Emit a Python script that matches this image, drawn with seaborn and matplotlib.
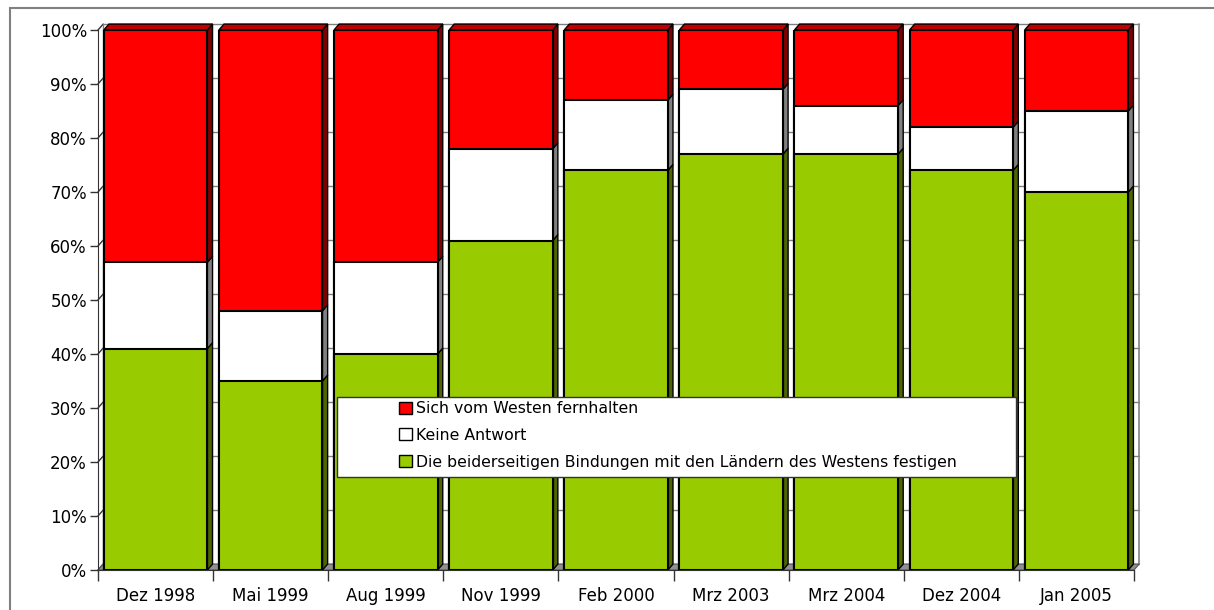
import numpy as np
import pandas as pd
import matplotlib
matplotlib.use("Agg")
import matplotlib.pyplot as plt
from matplotlib.patches import Polygon, Rectangle, Patch
import seaborn as sns

# survey data (percent)
dates = ["Dez 1998", "Mai 1999", "Aug 1999", "Nov 1999", "Feb 2000",
         "Mrz 2003", "Mrz 2004", "Dez 2004", "Jan 2005"]
festigen = [41, 35, 40, 61, 74, 77, 77, 74, 70]
keine = [16, 13, 17, 17, 13, 12, 9, 8, 15]
fernhalten = [43, 52, 43, 22, 13, 11, 14, 18, 15]

labels = ["Sich vom Westen fernhalten", "Keine Antwort",
          "Die beiderseitigen Bindungen mit den Ländern des Westens festigen"]
front = {"red": "#ff0000", "white": "#ffffff", "green": "#99cc00"}
side = {"red": "#800000", "white": "#808080", "green": "#4d6600"}
top_col = "#c00000"

df = pd.DataFrame({"Datum": dates, "festigen": festigen,
                   "keine": keine, "fernhalten": fernhalten})
df["c1"] = df["festigen"]
df["c2"] = df["c1"] + df["keine"]
df["c3"] = df["c2"] + df["fernhalten"]

sns.set_style("white")
plt.rcParams["font.family"] = ["DejaVu Sans"]
plt.rcParams["text.color"] = "black"
plt.rcParams["xtick.labelcolor"] = "black"
plt.rcParams["ytick.labelcolor"] = "black"
fs = 11.3
tfs = 12

fig = plt.figure(figsize=(12.14, 6.10), dpi=100)
ax = fig.add_axes([98 / 1214, 40 / 610, 1036 / 1214, 540 / 610])

W = 0.9
dx, dy = 0.045, 1.1

# back wall grid + floor
for v in range(0, 101, 10):
    ax.plot([-0.5 + dx, 8.5 + dx], [v + dy, v + dy], color="#808080", lw=1, zorder=0.5, clip_on=False)
    ax.plot([-0.5, -0.5 + dx], [v, v + dy], color="#333333", lw=1, zorder=0.5, clip_on=False)
ax.plot([-0.5 + dx, -0.5 + dx], [dy, 100 + dy], color="#808080", lw=1, zorder=0.5, clip_on=False)
ax.plot([8.5 + dx, 8.5 + dx], [dy, 100 + dy], color="#808080", lw=1.2, zorder=0.5, clip_on=False)
ax.add_patch(Polygon([[-0.5, 0], [8.5, 0], [8.5 + dx, dy], [-0.5 + dx, dy]],
                     closed=True, facecolor="#909090", edgecolor="#555555", lw=0.8, zorder=0.6, clip_on=False))

# stacked bars, drawn tallest first
sns.barplot(data=df, x="Datum", y="c3", order=dates, color=front["red"], width=W,
            edgecolor="black", linewidth=1.5, saturation=1, ax=ax, zorder=2)
sns.barplot(data=df, x="Datum", y="c2", order=dates, color=front["white"], width=W,
            edgecolor="black", linewidth=1.5, saturation=1, ax=ax, zorder=2)
sns.barplot(data=df, x="Datum", y="c1", order=dates, color=front["green"], width=W,
            edgecolor="black", linewidth=1.5, saturation=1, ax=ax, zorder=2)

# 3d side and top faces
for i, row in df.iterrows():
    x1 = i + W / 2
    x0 = i - W / 2
    segs = [(0, row["c1"], "green"), (row["c1"], row["c2"], "white"), (row["c2"], row["c3"], "red")]
    for y0, y1, key in segs:
        ax.add_patch(Polygon([[x1, y0], [x1 + dx, y0 + dy], [x1 + dx, y1 + dy], [x1, y1]],
                             closed=True, facecolor=side[key], edgecolor="black", lw=1, zorder=1.8, clip_on=False))
    t = row["c3"]
    ax.add_patch(Polygon([[x0, t], [x0 + dx, t + dy], [x1 + dx, t + dy], [x1, t]],
                         closed=True, facecolor=top_col, edgecolor="black", lw=1, zorder=1.8, clip_on=False))

ax.set_xlim(-0.5, 8.5)
ax.set_ylim(0, 100)
ax.set_yticks(range(0, 101, 10))
ax.set_yticklabels([f"{v}%" for v in range(0, 101, 10)], fontsize=tfs)
ax.set_xticks(np.arange(-0.5, 9, 1), minor=True)
ax.tick_params(axis="x", which="major", bottom=False, labelsize=tfs, pad=9, labelcolor="black")
ax.tick_params(axis="x", which="minor", bottom=True, length=8, width=1, color="#333333", direction="out")
ax.tick_params(axis="y", left=True, length=6, width=1, color="#333333", direction="out", pad=2, labelcolor="black")
ax.set_xlabel("")
ax.set_ylabel("")
sns.despine(ax=ax, top=True, right=True)
ax.spines["left"].set_color("#333333")
ax.spines["bottom"].set_color("#333333")
ax.spines["left"].set_zorder(3)

# legend box
ax.add_patch(Rectangle((239 / 1036, (570 - 477) / 540), (1016 - 337) / 1036, 80 / 540,
                       transform=ax.transAxes, facecolor="white", edgecolor="#333333",
                       lw=1, zorder=5))
handles = [Patch(facecolor=front[k], edgecolor="black", lw=1) for k in ["red", "white", "green"]]
leg = ax.legend(handles, labels, loc="upper left", bbox_to_anchor=(298 / 1036, (570 - 398) / 540),
                frameon=False, fontsize=fs, handlelength=0.8, handleheight=0.8,
                handletextpad=0.3, labelspacing=0.75, borderaxespad=0, borderpad=0.2,
                labelcolor="black")
leg.set_zorder(6)

# outer frame
fig.add_artist(Rectangle((10 / 1214, -0.05), 1.2, (610 - 8) / 610 + 0.05,
                         transform=fig.transFigure, facecolor="none",
                         edgecolor="#808080", lw=1.5))

fig.savefig("out.png", dpi=100)
